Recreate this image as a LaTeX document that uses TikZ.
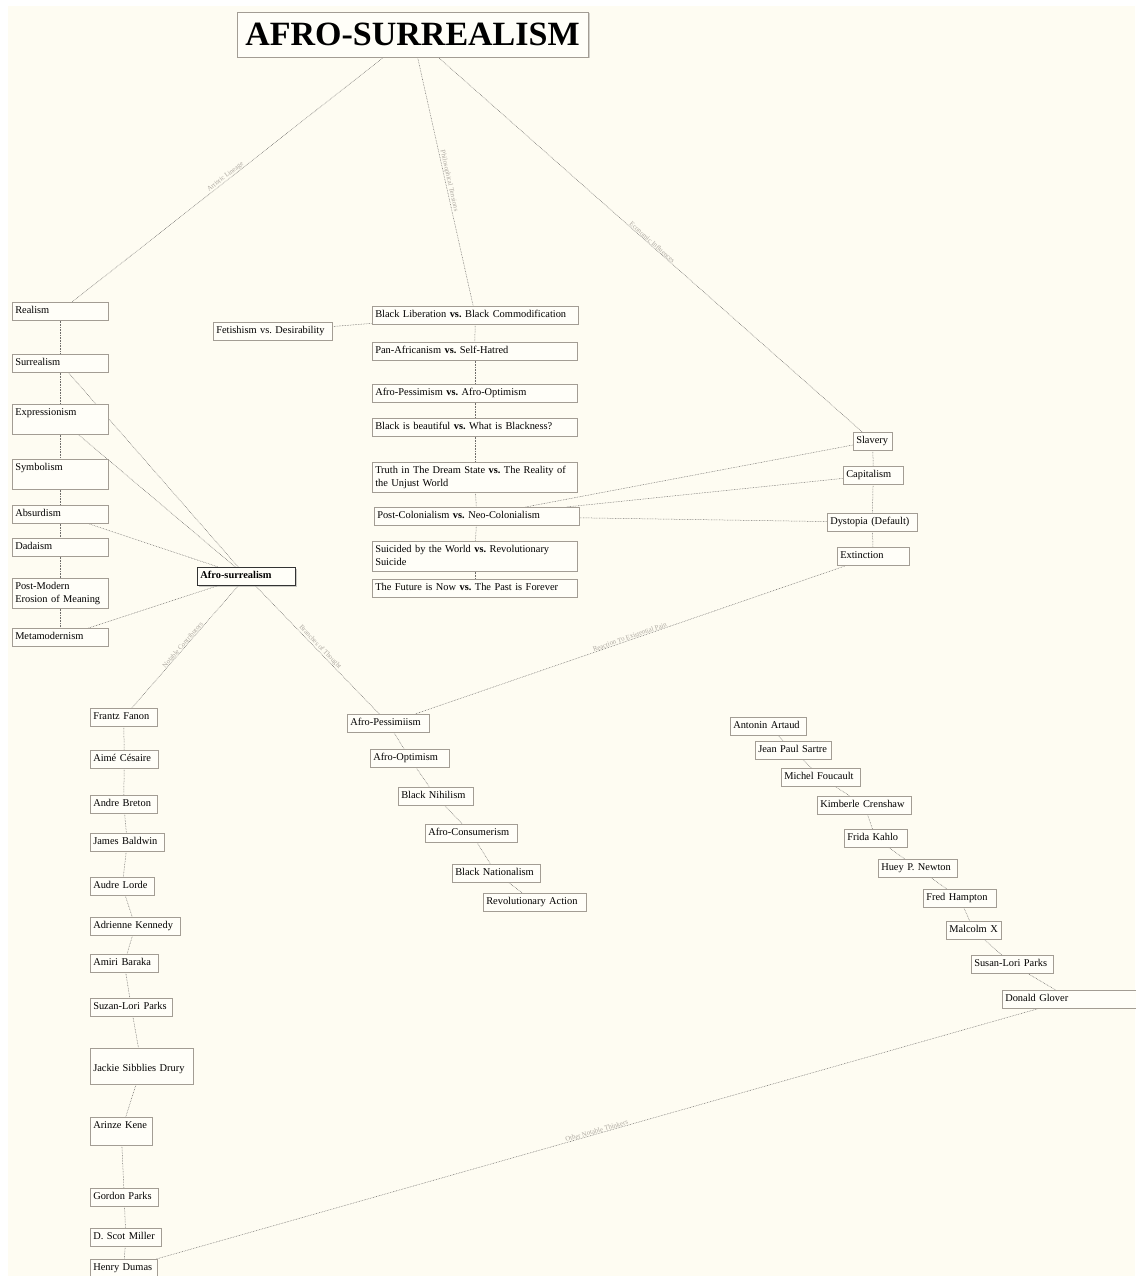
\documentclass[tikz,border=0pt]{standalone}
\usepackage{fontspec}
\setmainfont{Liberation Serif}
\usepackage{tikz}
\usetikzlibrary{shadows, backgrounds}
\frenchspacing

\definecolor{paper}{HTML}{FEFCF2}
\definecolor{boxfill}{HTML}{FFFEF8}
\definecolor{boxline}{HTML}{A39D94}
\definecolor{linkgray}{HTML}{6F6D6A}
\definecolor{lblgray}{HTML}{ADA8A0}

\newcommand{\boxfont}{\fontsize{10.4}{12.5}\selectfont}
\newcommand{\lblfont}{\fontsize{6.8}{7}\selectfont}

\pgfdeclarelayer{bg}
\pgfdeclarelayer{edges}
\pgfsetlayers{bg,edges,main}

\tikzset{
  box/.style={draw=boxline, fill=boxfill, line width=0.5pt, anchor=north west,
    align=left, inner xsep=3pt, inner ysep=4pt, text height=7.5pt,
    text depth=2.5pt, font=\boxfont,
    drop shadow={shadow xshift=0.7pt, shadow yshift=-0.7pt, opacity=0.3}},
  deep/.style={text depth=#1},
  link/.style={draw=linkgray, line width=0.5pt, dash pattern=on 0.7pt off 0.9pt},
  lbl/.style={sloped, above, inner sep=0.5pt, font=\lblfont, text=lblgray}
}

\begin{document}
\begin{tikzpicture}[x=1pt, y=-1pt]
\useasboundingbox (0,0) rectangle (1135,1276);
\begin{pgfonlayer}{bg}
\fill[white] (0,0) rectangle (1135,1276);
\fill[paper] (8,6) rectangle (1135,1276);
\end{pgfonlayer}

% title
\node[draw=boxline, fill=boxfill, line width=0.6pt, minimum width=351pt, minimum height=45pt,
  font=\fontsize{34}{36}\bfseries\selectfont,
  drop shadow={shadow xshift=1.5pt, shadow yshift=-1.5pt, opacity=0.35}]
  (title) at (412.5,34.5) {AFRO-SURREALISM};

% artistic lineage
\node[box, text width=90pt] (realism) at (12,302) {Realism};
\node[box, text width=90pt] (surreal) at (12,354) {Surrealism};
\node[box, text width=90pt, deep=14.5pt] (express) at (12,404) {Expressionism};
\node[box, text width=90pt, deep=14.5pt] (symbol) at (12,459) {Symbolism};
\node[box, text width=90pt] (absurd) at (12,505) {Absurdism};
\node[box, text width=90pt] (dada) at (12,538) {Dadaism};
\node[box, text width=90pt, deep=14.5pt] (postmod) at (12,578) {Post-Modern\\Erosion of Meaning};
\node[box, text width=90pt] (metamod) at (12,628) {Metamodernism};

\node[box, text width=92pt, draw=black!80, line width=0.8pt, font=\boxfont\bfseries,
  drop shadow={shadow xshift=1.2pt, shadow yshift=-1.2pt, opacity=0.4}]
  (afrosur) at (197,567) {Afro-surrealism};

% philosophical tensions
\node[box, text width=113pt] (fetish) at (213,322) {Fetishism vs. Desirability};
\node[box, text width=200pt] (liberation) at (372,306) {Black Liberation \textbf{vs.} Black Commodification};
\node[box, text width=199pt] (panafr) at (372,342) {Pan-Africanism \textbf{vs.} Self-Hatred};
\node[box, text width=199pt] (pessopt) at (372,384) {Afro-Pessimism \textbf{vs.} Afro-Optimism};
\node[box, text width=199pt] (beautiful) at (372,418) {Black is beautiful \textbf{vs.} What is Blackness?};
\node[box, text width=199pt, deep=14.5pt] (dream) at (372,462) {Truth in The Dream State \textbf{vs.} The Reality of\\the Unjust World};
\node[box, text width=199pt] (postcol) at (374,507) {Post-Colonialism \textbf{vs.} Neo-Colonialism};
\node[box, text width=199pt, deep=14.5pt] (suicided) at (372,541) {Suicided by the World \textbf{vs.} Revolutionary\\Suicide};
\node[box, text width=199pt] (future) at (372,579) {The Future is Now \textbf{vs.} The Past is Forever};

% economic influences
\node[box, text width=33pt] (slavery) at (853,432) {Slavery};
\node[box, text width=54pt] (capital) at (843,466) {Capitalism};
\node[box, text width=84pt] (dystopia) at (827,513) {Dystopia (Default)};
\node[box, text width=66pt] (extinct) at (837,547) {Extinction};

% branches of thought
\node[box, text width=76pt] (pessim) at (347,714) {Afro-Pessimiism};
\node[box, text width=73pt] (optim) at (370,749) {Afro-Optimism};
\node[box, text width=69pt] (nihil) at (398,787) {Black Nihilism};
\node[box, text width=86pt] (consum) at (425,824) {Afro-Consumerism};
\node[box, text width=82pt] (nation) at (452,864) {Black Nationalism};
\node[box, text width=97pt] (revol) at (483,893) {Revolutionary Action};

% notable contributors
\node[box, text width=61pt] (fanon) at (90,708) {Frantz Fanon};
\node[box, text width=62pt] (cesaire) at (90,750) {Aimé Césaire};
\node[box, text width=61pt] (breton) at (90,795) {Andre Breton};
\node[box, text width=68pt] (baldwin) at (90,833) {James Baldwin};
\node[box, text width=58pt] (lorde) at (90,877) {Audre Lorde};
\node[box, text width=84pt] (kennedy) at (90,917) {Adrienne Kennedy};
\node[box, text width=62pt] (baraka) at (90,954) {Amiri Baraka};
\node[box, text width=76pt] (parks) at (90,998) {Suzan-Lori Parks};
\node[box, text width=97pt, text height=19pt, deep=9pt] (drury) at (90,1048) {Jackie Sibblies Drury};
\node[box, text width=56pt, deep=12.5pt] (kene) at (90,1117) {Arinze Kene};
\node[box, text width=62pt] (gparks) at (90,1188) {Gordon Parks};
\node[box, text width=65pt] (miller) at (90,1228) {D. Scot Miller};
\node[box, text width=61pt] (dumas) at (90,1259) {Henry Dumas};

% other notable thinkers
\node[box, text width=70pt] (artaud) at (730,717) {Antonin Artaud};
\node[box, text width=70pt] (sartre) at (755,741) {Jean Paul Sartre};
\node[box, text width=73pt] (foucault) at (781,768) {Michel Foucault};
\node[box, text width=88pt] (crenshaw) at (817,796) {Kimberle Crenshaw};
\node[box, text width=57pt] (kahlo) at (844,829) {Frida Kahlo};
\node[box, text width=73pt] (newton) at (878,859) {Huey P. Newton};
\node[box, text width=67pt] (hampton) at (923,889) {Fred Hampton};
\node[box, text width=49pt] (malcolm) at (946,921) {Malcolm X};
\node[box, text width=76pt] (slparks) at (971,955) {Susan-Lori Parks};
\node[box, text width=132pt] (glover) at (1002,990) {Donald Glover};

\begin{pgfonlayer}{edges}
\draw[link] (title) -- node[lbl]{Artistic Lineage} (realism);
\draw[link] (title) -- node[lbl]{Philosophical Tensions} (liberation);
\draw[link] (title) -- node[lbl]{Economic Influences} (slavery);

\draw[link] (realism) -- (surreal);
\draw[link] (surreal) -- (express);
\draw[link] (express) -- (symbol);
\draw[link] (symbol) -- (absurd);
\draw[link] (absurd) -- (dada);
\draw[link] (dada) -- (postmod);
\draw[link] (postmod) -- (metamod);
\draw[link] (surreal) -- (afrosur);
\draw[link] (express) -- (afrosur);
\draw[link] (absurd) -- (afrosur);
\draw[link] (metamod) -- (afrosur);

\draw[link] (fetish) -- (liberation);
\draw[link] (liberation) -- (panafr);
\draw[link] (panafr) -- (pessopt);
\draw[link] (pessopt) -- (beautiful);
\draw[link] (beautiful) -- (dream);
\draw[link] (dream) -- (postcol);
\draw[link] (postcol) -- (suicided);
\draw[link] (suicided) -- (future);

\draw[link] (slavery) -- (capital);
\draw[link] (capital) -- (dystopia);
\draw[link] (dystopia) -- (extinct);
\draw[link] (slavery) -- (postcol);
\draw[link] (capital) -- (postcol);
\draw[link] (dystopia) -- (postcol);

\draw[link] (afrosur) -- node[lbl]{Notable Contributors} (fanon);
\draw[link] (afrosur) -- node[lbl]{Branches of Thought} (pessim);
\draw[link] (extinct) -- node[lbl]{Reaction To Existential Pain} (pessim);

\draw[link] (pessim) -- (optim);
\draw[link] (optim) -- (nihil);
\draw[link] (nihil) -- (consum);
\draw[link] (consum) -- (nation);
\draw[link] (nation) -- (revol);

\draw[link] (fanon) -- (cesaire);
\draw[link] (cesaire) -- (breton);
\draw[link] (breton) -- (baldwin);
\draw[link] (baldwin) -- (lorde);
\draw[link] (lorde) -- (kennedy);
\draw[link] (kennedy) -- (baraka);
\draw[link] (baraka) -- (parks);
\draw[link] (parks) -- (drury);
\draw[link] (drury) -- (kene);
\draw[link] (kene) -- (gparks);
\draw[link] (gparks) -- (miller);
\draw[link] (miller) -- (dumas);

\draw[link] (artaud) -- (sartre);
\draw[link] (sartre) -- (foucault);
\draw[link] (foucault) -- (crenshaw);
\draw[link] (crenshaw) -- (kahlo);
\draw[link] (kahlo) -- (newton);
\draw[link] (newton) -- (hampton);
\draw[link] (hampton) -- (malcolm);
\draw[link] (malcolm) -- (slparks);
\draw[link] (slparks) -- (glover);
\draw[link] (glover) -- node[lbl]{Other Notable Thinkers} (dumas);
\end{pgfonlayer}
\end{tikzpicture}
\end{document}
